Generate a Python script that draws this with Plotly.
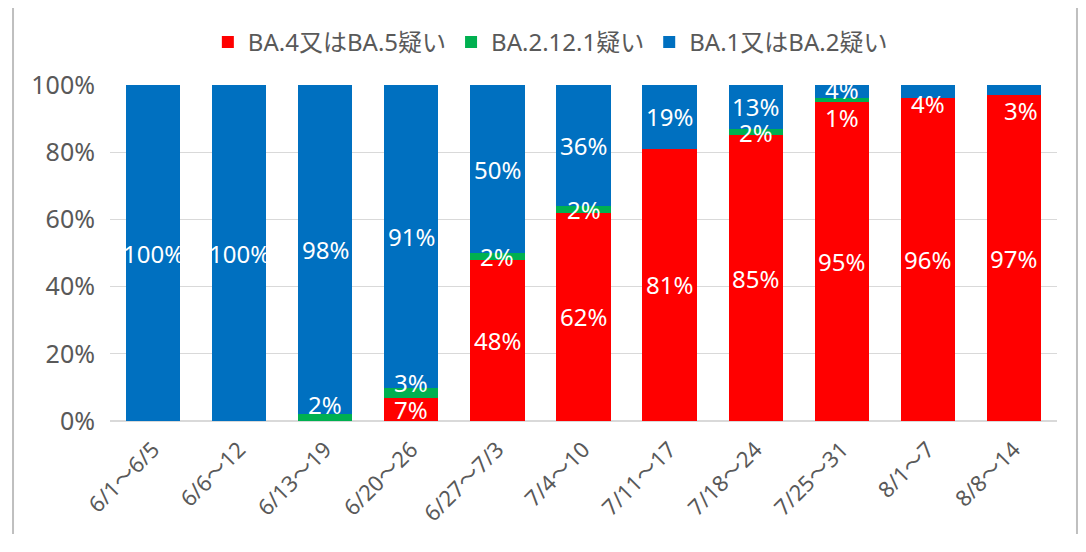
import plotly.graph_objects as go

categories = ["6/1～6/5", "6/6～12", "6/13～19", "6/20～26", "6/27～7/3", "7/4～10",
              "7/11～17", "7/18～24", "7/25～31", "8/1～7", "8/8～14"]
ba45 = [0, 0, 0, 7, 48, 62, 81, 85, 95, 96, 97]
ba2121 = [0, 0, 2, 3, 2, 2, 0, 2, 1, 0, 0]
ba12 = [100, 100, 98, 91, 50, 36, 19, 13, 4, 4, 3]

series = [
    ("BA.4又はBA.5疑い", ba45, "#FF0000"),
    ("BA.2.12.1疑い", ba2121, "#00B050"),
    ("BA.1又はBA.2疑い", ba12, "#0070C0"),
]

# label nudges in pixels (style only): (series index, category index) -> (dx, dy)
nudge = {
    (1, 2): (0, 13),
    (1, 3): (0, 10),
    (1, 8): (0, -17),
    (2, 8): (0, 2),
    (2, 9): (0, -12),
    (2, 10): (7, -20),
}

FONT = "Noto Sans, Noto Sans CJK JP"
GREY = "#595959"
fig = go.Figure()
for name, vals, col in series:
    fig.add_trace(go.Bar(x=categories, y=vals, name=name, marker_color=col,
                         marker_line_width=0))

annotations = []
totals = [sum(t) for t in zip(ba45, ba2121, ba12)]
base = [0.0] * len(categories)
for si, (name, vals, col) in enumerate(series):
    for ci, v in enumerate(vals):
        if v > 0:
            yc = (base[ci] + v / 2) / totals[ci]
            dx, dy = nudge.get((si, ci), (0, 0))
            annotations.append(dict(x=categories[ci], y=yc, text=f"{v}%", showarrow=False,
                                    xshift=dx, yshift=dy,
                                    font=dict(family=FONT, size=24, color="white")))
        base[ci] += v

fig.update_layout(
    barmode="stack", barnorm="fraction", bargap=0.37,
    width=1070, height=526,
    margin=dict(l=102, r=21, t=75, b=113),
    plot_bgcolor="white", paper_bgcolor="white",
    font=dict(family=FONT, color=GREY),
    legend=dict(orientation="h", x=0.465, xanchor="center", y=1.127, yanchor="middle",
                font=dict(size=24, color=GREY), traceorder="normal",
                itemwidth=30, tracegroupgap=0),
    annotations=annotations,
    showlegend=True,
)
fig.update_yaxes(range=[0, 1], tickvals=[0, 0.2, 0.4, 0.6, 0.8, 1.0], tickformat=".0%",
                 showgrid=True, gridcolor="#D9D9D9", gridwidth=1, zeroline=True,
                 zerolinecolor="#D9D9D9", tickfont=dict(size=25, color=GREY),
                 ticks="", ticklen=0, showline=False, ticklabelstandoff=14,
                 automargin=False)
fig.update_xaxes(tickangle=-45, tickfont=dict(size=22, color=GREY),
                 showline=True, linecolor="#D9D9D9", ticks="", ticklabelstandoff=6,
                 automargin=False)

for xp in [-0.1024, 1.0211]:
    fig.add_shape(type="line", xref="paper", yref="paper", x0=xp, x1=xp, y0=-1, y1=2,
                  line=dict(color="#BFBFBF", width=2))

fig.write_html("out.html")
